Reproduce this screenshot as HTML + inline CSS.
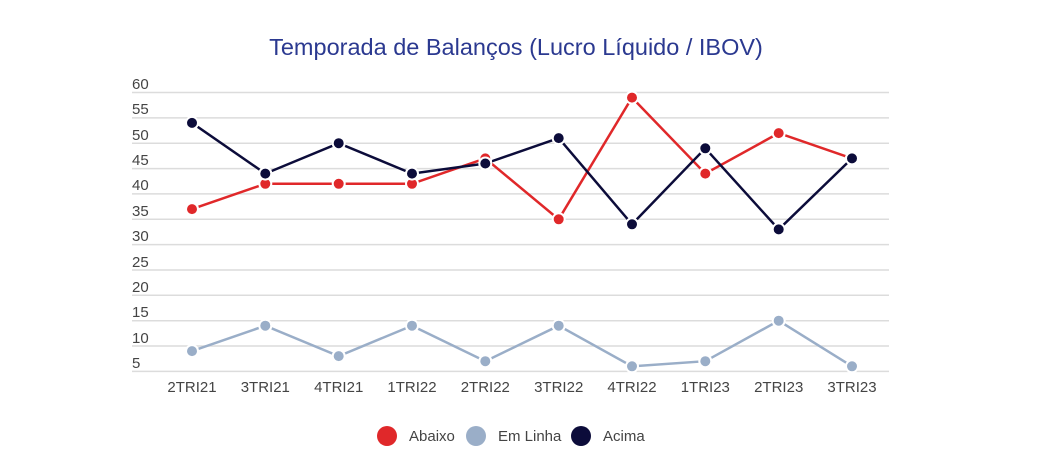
<!DOCTYPE html>
<html><head><meta charset="utf-8"><style>
html,body{margin:0;padding:0;background:#fff;}
svg{display:block;font-family:"Liberation Sans",sans-serif;}
</style></head><body>
<svg width="1061" height="451" viewBox="0 0 1061 451">
<text x="516" y="55" text-anchor="middle" font-size="23.5" fill="#2b3990">Temporada de Balanços (Lucro Líquido / IBOV)</text>
<g stroke="#dcdcdc" stroke-width="1.5">
<line x1="132" x2="889" y1="92.5" y2="92.5"/><line x1="132" x2="889" y1="117.9" y2="117.9"/>
<line x1="132" x2="889" y1="143.2" y2="143.2"/><line x1="132" x2="889" y1="168.6" y2="168.6"/>
<line x1="132" x2="889" y1="193.9" y2="193.9"/><line x1="132" x2="889" y1="219.3" y2="219.3"/>
<line x1="132" x2="889" y1="244.6" y2="244.6"/><line x1="132" x2="889" y1="270" y2="270"/>
<line x1="132" x2="889" y1="295.3" y2="295.3"/><line x1="132" x2="889" y1="320.7" y2="320.7"/>
<line x1="132" x2="889" y1="346" y2="346"/><line x1="132" x2="889" y1="371.4" y2="371.4"/>
</g>
<g font-size="15" fill="#444">
<text x="132" y="89">60</text><text x="132" y="114">55</text><text x="132" y="140">50</text>
<text x="132" y="165">45</text><text x="132" y="190">40</text><text x="132" y="216">35</text>
<text x="132" y="241">30</text><text x="132" y="267">25</text><text x="132" y="292">20</text>
<text x="132" y="317">15</text><text x="132" y="343">10</text><text x="132" y="368">5</text>
</g>
<g font-size="15" fill="#444" text-anchor="middle">
<text x="192" y="392">2TRI21</text><text x="265.3" y="392">3TRI21</text><text x="338.7" y="392">4TRI21</text>
<text x="412" y="392">1TRI22</text><text x="485.3" y="392">2TRI22</text><text x="558.7" y="392">3TRI22</text>
<text x="632" y="392">4TRI22</text><text x="705.3" y="392">1TRI23</text><text x="778.7" y="392">2TRI23</text>
<text x="852" y="392">3TRI23</text>
</g>
<g fill="none" stroke-width="2.5">
<polyline stroke="#9aaec8" points="192,351.1 265.3,325.7 338.7,356.1 412,325.7 485.3,361.2 558.7,325.7 632,366.3 705.3,361.2 778.7,320.7 852,366.3"/>
<polyline stroke="#e0282a" points="192,209.1 265.3,183.8 338.7,183.8 412,183.8 485.3,158.4 558.7,219.3 632,97.6 705.3,173.6 778.7,133.1 852,158.4"/>
<polyline stroke="#0c0c3a" points="192,122.9 265.3,173.6 338.7,143.2 412,173.6 485.3,163.5 558.7,138.1 632,224.3 705.3,148.3 778.7,229.4 852,158.4"/>
</g>
<g stroke="#fff" stroke-width="2">
<g fill="#9aaec8"><circle cx="192" cy="351.1" r="6"/><circle cx="265.3" cy="325.7" r="6"/><circle cx="338.7" cy="356.1" r="6"/><circle cx="412" cy="325.7" r="6"/><circle cx="485.3" cy="361.2" r="6"/><circle cx="558.7" cy="325.7" r="6"/><circle cx="632" cy="366.3" r="6"/><circle cx="705.3" cy="361.2" r="6"/><circle cx="778.7" cy="320.7" r="6"/><circle cx="852" cy="366.3" r="6"/></g>
<g fill="#e0282a"><circle cx="192" cy="209.1" r="6"/><circle cx="265.3" cy="183.8" r="6"/><circle cx="338.7" cy="183.8" r="6"/><circle cx="412" cy="183.8" r="6"/><circle cx="485.3" cy="158.4" r="6"/><circle cx="558.7" cy="219.3" r="6"/><circle cx="632" cy="97.6" r="6"/><circle cx="705.3" cy="173.6" r="6"/><circle cx="778.7" cy="133.1" r="6"/><circle cx="852" cy="158.4" r="6"/></g>
<g fill="#0c0c3a"><circle cx="192" cy="122.9" r="6"/><circle cx="265.3" cy="173.6" r="6"/><circle cx="338.7" cy="143.2" r="6"/><circle cx="412" cy="173.6" r="6"/><circle cx="485.3" cy="163.5" r="6"/><circle cx="558.7" cy="138.1" r="6"/><circle cx="632" cy="224.3" r="6"/><circle cx="705.3" cy="148.3" r="6"/><circle cx="778.7" cy="229.4" r="6"/><circle cx="852" cy="158.4" r="6"/></g>
</g>
<g font-size="15" fill="#444">
<circle cx="387" cy="436" r="10" fill="#e0282a"/><text x="409" y="441">Abaixo</text>
<circle cx="476" cy="436" r="10" fill="#9aaec8"/><text x="498" y="441">Em Linha</text>
<circle cx="581" cy="436" r="10" fill="#0c0c3a"/><text x="603" y="441">Acima</text>
</g>
</svg>
</body></html>
